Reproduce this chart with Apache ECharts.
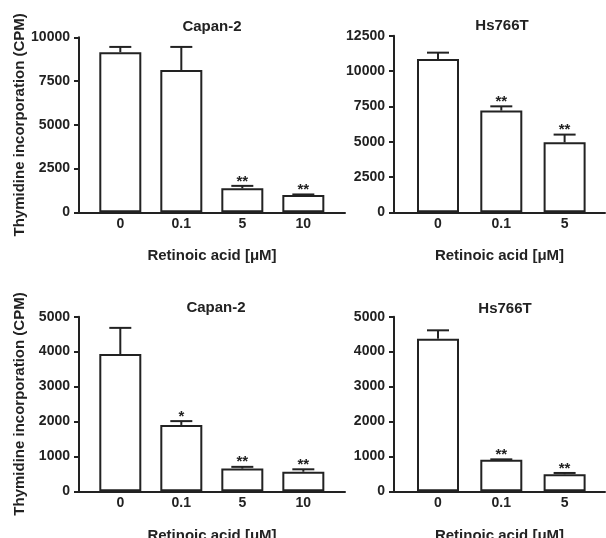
<!DOCTYPE html>
<html>
<head>
<meta charset="utf-8">
<script src="https://cdn.jsdelivr.net/npm/echarts@6/dist/echarts.min.js"></script>
<style>
html,body{margin:0;padding:0;background:#fff;}
#c{width:606px;height:538px;}
</style>
</head>
<body>
<div id="c"></div>
<script>
// ---- data ----
const catsCapan = ['0', '0.1', '5', '10'];
const catsHs = ['0', '0.1', '5'];

const capanTopMean = [9150, 8130, 1370, 990];
const capanTopErr = [300, 1320, 140, 30];
const capanTopSig = ['', '', '**', '**'];

const hsTopMean = [10850, 7200, 4950];
const hsTopErr = [450, 300, 550];
const hsTopSig = ['', '**', '**'];

const capanBotMean = [3930, 1900, 650, 560];
const capanBotErr = [750, 110, 50, 70];
const capanBotSig = ['', '*', '**', '**'];

const hsBotMean = [4370, 900, 490];
const hsBotErr = [240, 15, 35];
const hsBotSig = ['', '**', '**'];

const yTicksTop1 = {max: 10000, interval: 2500};
const yTicksTop2 = {max: 12500, interval: 2500};
const yTicksBot = {max: 5000, interval: 1000};

const titles = ['Capan-2', 'Hs766T', 'Capan-2', 'Hs766T'];
const xName = 'Retinoic acid [\u03bcM]';
const yName = 'Thymidine incorporation (CPM)';

// ---- chart ----
const FONT = "'Liberation Sans', Arial, sans-serif";
const INK = '#222';
const chart = echarts.init(document.getElementById('c'), null, {renderer: 'canvas'});

const panels = [
  {cats: catsCapan, mean: capanTopMean, err: capanTopErr, sig: capanTopSig, y: yTicksTop1,
   grid: {left: 79, top: 37.3, width: 266, height: 175}, xmin: -0.677, xmax: 3.683, yName: true, nameGap: 36},
  {cats: catsHs, mean: hsTopMean, err: hsTopErr, sig: hsTopSig, y: yTicksTop2,
   grid: {left: 394, top: 35.7, width: 211, height: 176.6}, xmin: -0.695, xmax: 2.638, yName: false, nameGap: 36},
  {cats: catsCapan, mean: capanBotMean, err: capanBotErr, sig: capanBotSig, y: yTicksBot,
   grid: {left: 79, top: 316.7, width: 266, height: 174.6}, xmin: -0.677, xmax: 3.683, yName: true, nameGap: 37},
  {cats: catsHs, mean: hsBotMean, err: hsBotErr, sig: hsBotSig, y: yTicksBot,
   grid: {left: 394, top: 316.7, width: 211, height: 174.6}, xmin: -0.695, xmax: 2.638, yName: false, nameGap: 37}
];

const titlePos = [
  {left: 207, top: 14}, {left: 497, top: 13}, {left: 211, top: 295}, {left: 500, top: 296}
];

const option = {
  animation: false,
  backgroundColor: '#fff',
  textStyle: {fontFamily: FONT},
  title: titles.map((t, i) => ({
    text: t, left: titlePos[i].left, top: titlePos[i].top, textAlign: 'center',
    textStyle: {fontFamily: FONT, fontWeight: 'bold', fontSize: 15, color: INK}
  })),
  grid: panels.map(p => Object.assign({containLabel: false, outerBoundsMode: 'none'}, p.grid)),
  xAxis: panels.map((p, i) => ({
    type: 'value', gridIndex: i, min: p.xmin, max: p.xmax,
    name: xName, nameLocation: 'middle', nameGap: p.nameGap,
    nameTextStyle: {fontFamily: FONT, fontWeight: 'bold', fontSize: 15, color: INK},
    axisLine: {show: true, onZero: false, lineStyle: {color: INK, width: 2}},
    axisTick: {show: false},
    splitLine: {show: false},
    axisLabel: {
      customValues: p.cats.map((c, k) => k),
      formatter: v => p.cats[Math.round(v)],
      margin: 5, fontFamily: FONT, fontWeight: 'bold', fontSize: 14, color: INK
    }
  })),
  yAxis: panels.map((p, i) => ({
    type: 'value', gridIndex: i, min: 0, max: p.y.max, interval: p.y.interval,
    name: p.yName ? yName : '', nameLocation: 'middle', nameGap: 52,
    nameTextStyle: {fontFamily: FONT, fontWeight: 'bold', fontSize: 15, color: INK},
    axisLine: {show: true, onZero: false, lineStyle: {color: INK, width: 2}},
    axisTick: {show: true, length: 5, lineStyle: {color: INK, width: 2}},
    splitLine: {show: false},
    axisLabel: {margin: 9, fontFamily: FONT, fontWeight: 'bold', fontSize: 14, color: INK,
                formatter: v => String(v)}
  })),
  series: []
};

panels.forEach((p, i) => {
  option.series.push({
    type: 'bar', xAxisIndex: i, yAxisIndex: i, barWidth: 42,
    data: p.mean.map((v, k) => [k, v]),
    itemStyle: {color: '#fff', borderColor: INK, borderWidth: 2},
    z: 2
  });
  option.series.push({
    type: 'custom', xAxisIndex: i, yAxisIndex: i, z: 3, clip: false,
    encode: {x: 0, y: 1},
    data: p.mean.map((v, k) => [k, v, p.err[k]]),
    renderItem: function (params, api) {
      const x = api.value(0), v = api.value(1), e = api.value(2);
      const p0 = api.coord([x, v]);
      const p1 = api.coord([x, v + e]);
      const half = 11;
      const s = p.sig[params.dataIndex];
      const children = [
        {type: 'line', shape: {x1: p0[0], y1: p0[1], x2: p1[0], y2: p1[1]},
         style: {stroke: INK, lineWidth: 2}},
        {type: 'line', shape: {x1: p1[0] - half, y1: p1[1], x2: p1[0] + half, y2: p1[1]},
         style: {stroke: INK, lineWidth: 2}}
      ];
      if (s) {
        children.push({type: 'text', x: p1[0], y: p1[1] + 3,
          style: {text: s, align: 'center', verticalAlign: 'bottom',
                  font: 'bold 15px ' + FONT, fill: INK}});
      }
      return {type: 'group', children: children};
    }
  });
});

chart.setOption(option);
</script>
</body>
</html>
